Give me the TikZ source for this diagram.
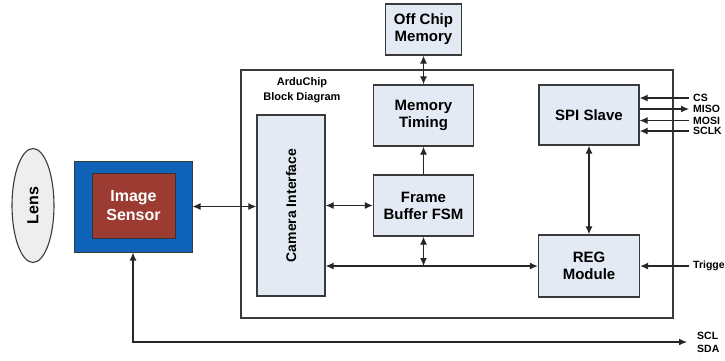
\documentclass[tikz,border=0pt]{standalone}
\usepackage{fontspec}
\setmainfont{Liberation Sans}
\usetikzlibrary{arrows.meta,shapes.geometric}
\definecolor{boxfill}{HTML}{E4EAF4}
\definecolor{boxline}{HTML}{3A3A3A}
\definecolor{sensorblue}{HTML}{0E63B9}
\definecolor{sensorred}{HTML}{9C3B31}
\definecolor{lensfill}{HTML}{EEEEEE}

\begin{document}
\begin{tikzpicture}
[
	x=1pt,y=-1pt,
	block/.style={draw=boxline,fill=boxfill,line width=1.3pt,inner sep=0pt,align=center,font=\fontsize{15}{17}\selectfont\bfseries},
	sig/.style={anchor=west,inner sep=4pt,align=left,font=\fontsize{10.5}{13}\selectfont\bfseries},
	link/.style={draw=black!85,line width=1.2pt},
	>={Latex[length=8pt,width=7pt]}
]
	\useasboundingbox (0,0) rectangle (725,360);

	\draw[draw=boxline,line width=1.3pt] (241,70) rectangle (673,318);
	\node[align=center,font=\fontsize{11}{15}\selectfont\bfseries] at (302,90) (title) {ArduChip\\Block Diagram};

	\node[ellipse,draw=boxline,fill=lensfill,line width=1.1pt,minimum width=42pt,minimum height=114pt,inner sep=0pt] at (33,205.5) (lens) {};
	\node[rotate=90,font=\fontsize{16}{17}\selectfont\bfseries] at (lens) (lenstxt) {Lens};

	\node[draw=boxline,fill=sensorblue,line width=1pt,minimum width=118pt,minimum height=91pt] at (133,206.5) (sensor) {};
	\node[draw=black!80,fill=sensorred,line width=1pt,minimum width=83pt,minimum height=65pt,text=white,align=center,font=\fontsize{16}{19}\selectfont\bfseries] at (133.5,205.5) (core) {Image\\Sensor};

	\node[block,minimum width=68pt,minimum height=181pt] at (291,205.5) (cam) {};
	\node[rotate=90,font=\fontsize{14}{17}\selectfont\bfseries] at (cam) (camtxt) {Camera Interface};

	\node[block,minimum width=76pt,minimum height=51pt] at (423.5,29.5) (offchip) {Off Chip\\Memory};
	\node[block,minimum width=100pt,minimum height=61pt] at (423.5,115.5) (timing) {Memory\\Timing};
	\node[block,minimum width=100pt,minimum height=61pt] at (423.5,205.5) (fsm) {Frame\\Buffer FSM};
	\node[block,minimum width=100pt,minimum height=60pt] at (589,115) (spi) {SPI Slave};
	\node[block,minimum width=101pt,minimum height=62pt] at (589,266) (reg) {REG\\Module};

	\node[sig] at (689,98) (cs) {CS};
	\node[sig] at (689,109) (miso) {MISO};
	\node[sig] at (689,120.5) (mosi) {MOSI};
	\node[sig] at (689,131) (sclk) {SCLK};
	\node[sig] at (689,266) (trigger) {Trigger};
	\node[sig] at (693,342) (i2c) {SCL\\SDA};

	\coordinate (busjoin) at (fsm.south |- reg.west);

	\draw[link,<->] (sensor.east) -- (cam.west |- sensor.east);
	\draw[link,<->] (cam.east |- fsm.west) -- (fsm.west);
	\draw[link,<->] (offchip.south) -- (timing.north);
	\draw[link,->] (fsm.north) -- (timing.south);
	\draw[link,<->] (cam.east |- reg.west) -- (reg.west);
	\draw[link,<->] (fsm.south) -- (busjoin);
	\draw[link,<->] (spi.south) -- (reg.north);

	\draw[link,->] (cs.west) -- (spi.east |- cs.west);
	\draw[link,->] (spi.east |- miso.west) -- (miso.west);
	\draw[link,->] (mosi.west) -- (spi.east |- mosi.west);
	\draw[link,->] (sclk.west) -- (spi.east |- sclk.west);
	\draw[link,->] (trigger.west) -- (reg.east);
	\draw[link,<->,shorten >=6pt] (sensor.south) |- (i2c.west);

\end{tikzpicture}
\end{document}
